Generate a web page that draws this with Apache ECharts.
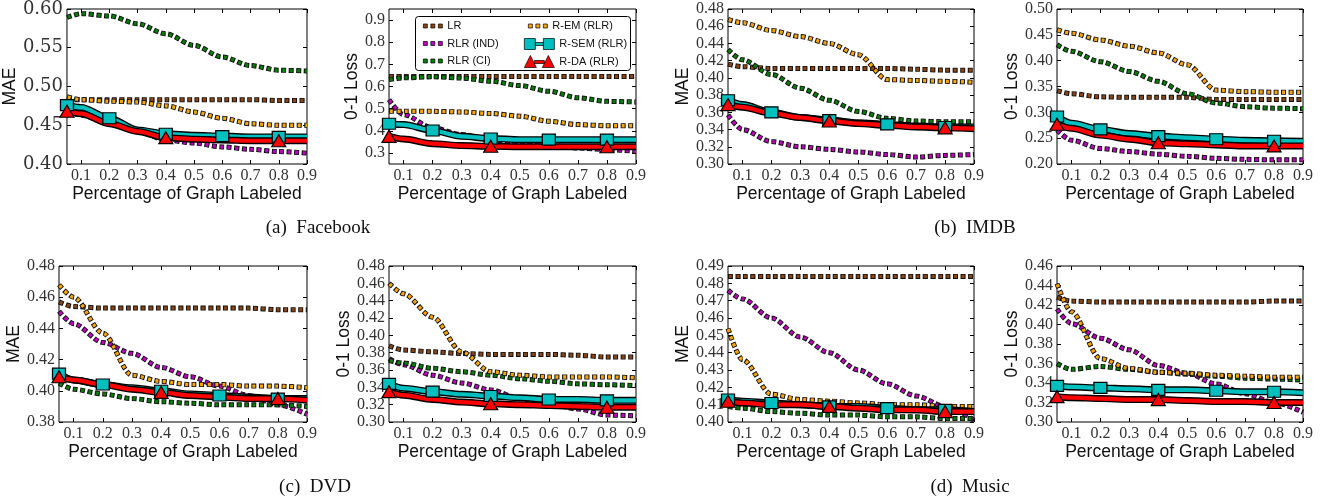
<!DOCTYPE html>
<html>
<head>
<meta charset="utf-8">
<script src="https://cdn.jsdelivr.net/npm/echarts@6/dist/echarts.min.js"></script>
<style>
  html, body { margin: 0; padding: 0; background: #fff; }
  #chart { width: 1330px; height: 500px; }
</style>
</head>
<body>
<div id="chart"></div>
<script>
const xValues = [0.05, 0.1, 0.2, 0.3, 0.4, 0.5, 0.6, 0.7, 0.8, 0.9];
const xTicks = [0.1, 0.2, 0.3, 0.4, 0.5, 0.6, 0.7, 0.8, 0.9];
const methods = ['LR', 'RLR (IND)', 'RLR (CI)', 'R-EM (RLR)', 'R-SEM (RLR)', 'R-DA (RLR)'];
const captions = ['(a)  Facebook', '(b)  IMDB', '(c)  DVD', '(d)  Music'];

// each panel: one row per method, same order as methods
const facebookMae = [
  [0.483, 0.483, 0.483, 0.483, 0.483, 0.483, 0.483, 0.483, 0.482, 0.482],
  [0.469, 0.463, 0.452, 0.442, 0.431, 0.427, 0.422, 0.419, 0.416, 0.414],
  [0.589, 0.594, 0.591, 0.581, 0.568, 0.553, 0.538, 0.527, 0.521, 0.520],
  [0.487, 0.483, 0.481, 0.480, 0.475, 0.467, 0.459, 0.452, 0.450, 0.450],
  [0.476, 0.473, 0.459, 0.444, 0.439, 0.437, 0.436, 0.435, 0.435, 0.435],
  [0.468, 0.465, 0.452, 0.442, 0.434, 0.432, 0.431, 0.430, 0.430, 0.430]
];
const facebookLoss = [
  [0.645, 0.645, 0.645, 0.645, 0.645, 0.645, 0.645, 0.645, 0.645, 0.645],
  [0.541, 0.473, 0.413, 0.383, 0.360, 0.345, 0.334, 0.322, 0.315, 0.307],
  [0.631, 0.639, 0.644, 0.638, 0.624, 0.604, 0.579, 0.549, 0.533, 0.530],
  [0.488, 0.488, 0.488, 0.485, 0.478, 0.466, 0.443, 0.428, 0.423, 0.423],
  [0.432, 0.428, 0.401, 0.375, 0.365, 0.360, 0.360, 0.360, 0.360, 0.360],
  [0.375, 0.363, 0.342, 0.333, 0.330, 0.328, 0.328, 0.328, 0.328, 0.328]
];
const imdbMae = [
  [0.416, 0.413, 0.411, 0.411, 0.411, 0.411, 0.411, 0.410, 0.409, 0.409],
  [0.357, 0.340, 0.326, 0.320, 0.317, 0.314, 0.311, 0.308, 0.310, 0.311],
  [0.433, 0.421, 0.404, 0.388, 0.374, 0.361, 0.353, 0.350, 0.349, 0.349],
  [0.468, 0.464, 0.455, 0.448, 0.440, 0.427, 0.398, 0.397, 0.396, 0.395],
  [0.374, 0.369, 0.360, 0.354, 0.351, 0.348, 0.346, 0.344, 0.343, 0.343],
  [0.369, 0.366, 0.359, 0.354, 0.350, 0.347, 0.345, 0.343, 0.342, 0.341]
];
const imdbLoss = [
  [0.342, 0.336, 0.330, 0.329, 0.329, 0.329, 0.325, 0.325, 0.325, 0.325],
  [0.266, 0.246, 0.230, 0.224, 0.219, 0.215, 0.211, 0.209, 0.208, 0.208],
  [0.431, 0.418, 0.398, 0.379, 0.360, 0.336, 0.318, 0.311, 0.308, 0.307],
  [0.460, 0.453, 0.440, 0.428, 0.415, 0.392, 0.343, 0.340, 0.339, 0.339],
  [0.292, 0.279, 0.267, 0.259, 0.254, 0.251, 0.248, 0.246, 0.245, 0.244],
  [0.277, 0.269, 0.256, 0.248, 0.241, 0.239, 0.237, 0.235, 0.235, 0.235]
];
const dvdMae = [
  [0.457, 0.454, 0.453, 0.453, 0.453, 0.453, 0.453, 0.453, 0.452, 0.452],
  [0.451, 0.443, 0.431, 0.424, 0.415, 0.409, 0.403, 0.397, 0.391, 0.385],
  [0.405, 0.401, 0.398, 0.395, 0.393, 0.392, 0.391, 0.391, 0.391, 0.390],
  [0.468, 0.460, 0.437, 0.410, 0.406, 0.404, 0.404, 0.403, 0.403, 0.402],
  [0.411, 0.407, 0.404, 0.402, 0.400, 0.398, 0.397, 0.396, 0.395, 0.395],
  [0.409, 0.407, 0.404, 0.401, 0.399, 0.397, 0.396, 0.395, 0.395, 0.394]
];
const dvdLoss = [
  [0.388, 0.383, 0.381, 0.379, 0.378, 0.378, 0.378, 0.377, 0.375, 0.375],
  [0.373, 0.366, 0.354, 0.345, 0.337, 0.327, 0.321, 0.315, 0.308, 0.307],
  [0.371, 0.368, 0.362, 0.358, 0.354, 0.350, 0.347, 0.344, 0.343, 0.342],
  [0.460, 0.448, 0.421, 0.381, 0.358, 0.354, 0.352, 0.352, 0.352, 0.351],
  [0.344, 0.339, 0.335, 0.332, 0.330, 0.328, 0.326, 0.326, 0.325, 0.325],
  [0.335, 0.331, 0.326, 0.323, 0.321, 0.320, 0.319, 0.318, 0.317, 0.317]
];
const musicMae = [
  [0.484, 0.484, 0.484, 0.484, 0.484, 0.484, 0.484, 0.484, 0.484, 0.484],
  [0.476, 0.471, 0.460, 0.449, 0.440, 0.430, 0.422, 0.415, 0.409, 0.401],
  [0.409, 0.408, 0.406, 0.405, 0.404, 0.404, 0.403, 0.403, 0.402, 0.402],
  [0.454, 0.436, 0.416, 0.413, 0.412, 0.411, 0.410, 0.410, 0.409, 0.409],
  [0.413, 0.412, 0.411, 0.410, 0.409, 0.409, 0.408, 0.407, 0.407, 0.406],
  [0.412, 0.411, 0.410, 0.410, 0.409, 0.408, 0.407, 0.407, 0.406, 0.406]
];
const musicLoss = [
  [0.428, 0.424, 0.423, 0.423, 0.423, 0.423, 0.423, 0.423, 0.424, 0.424],
  [0.416, 0.401, 0.386, 0.374, 0.358, 0.350, 0.339, 0.329, 0.320, 0.310],
  [0.360, 0.354, 0.357, 0.354, 0.351, 0.349, 0.347, 0.345, 0.344, 0.343],
  [0.442, 0.413, 0.365, 0.355, 0.351, 0.350, 0.348, 0.347, 0.346, 0.346],
  [0.337, 0.336, 0.335, 0.334, 0.333, 0.333, 0.332, 0.331, 0.331, 0.330],
  [0.326, 0.325, 0.324, 0.323, 0.323, 0.322, 0.321, 0.321, 0.320, 0.320]
];

// y tick labels per panel
const facebookMaeTicks = [0.40, 0.45, 0.50, 0.55, 0.60];
const facebookLossTicks = [0.3, 0.4, 0.5, 0.6, 0.7, 0.8, 0.9];
const imdbMaeTicks = [0.30, 0.32, 0.34, 0.36, 0.38, 0.40, 0.42, 0.44, 0.46, 0.48];
const imdbLossTicks = [0.20, 0.25, 0.30, 0.35, 0.40, 0.45, 0.50];
const dvdMaeTicks = [0.38, 0.40, 0.42, 0.44, 0.46, 0.48];
const dvdLossTicks = [0.30, 0.32, 0.34, 0.36, 0.38, 0.40, 0.42, 0.44, 0.46, 0.48];
const musicMaeTicks = [0.40, 0.41, 0.42, 0.43, 0.44, 0.45, 0.46, 0.47, 0.48, 0.49];
const musicLossTicks = [0.30, 0.32, 0.34, 0.36, 0.38, 0.40, 0.42, 0.44, 0.46];

const colors = ['#8b4513', '#bf00bf', '#008000', '#ffa500', '#00bfbf', '#ff0000'];

const panels = [
  { data: facebookMae, ticks: facebookMaeTicks, min: 0.40, max: 0.60, yName: 'MAE', box: [60, 9, 247, 155], nameGap: 36, digits: 2, wideLabels: true },
  { data: facebookLoss, ticks: facebookLossTicks, min: 0.25, max: 0.95, yName: '0-1 Loss', box: [389, 9, 247, 155], nameGap: 25, digits: 1 },
  { data: imdbMae, ticks: imdbMaeTicks, min: 0.30, max: 0.48, yName: 'MAE', box: [728, 9, 246, 155], nameGap: 34, digits: 2 },
  { data: imdbLoss, ticks: imdbLossTicks, min: 0.20, max: 0.50, yName: '0-1 Loss', box: [1057, 9, 246, 155], nameGap: 33, digits: 2 },
  { data: dvdMae, ticks: dvdMaeTicks, min: 0.38, max: 0.48, yName: 'MAE', box: [59, 266, 248, 156], nameGap: 34, digits: 2 },
  { data: dvdLoss, ticks: dvdLossTicks, min: 0.30, max: 0.48, yName: '0-1 Loss', box: [389, 266, 247, 156], nameGap: 34, digits: 2 },
  { data: musicMae, ticks: musicMaeTicks, min: 0.40, max: 0.49, yName: 'MAE', box: [728, 266, 246, 156], nameGap: 36, digits: 2 },
  { data: musicLoss, ticks: musicLossTicks, min: 0.30, max: 0.46, yName: '0-1 Loss', box: [1057, 266, 246, 156], nameGap: 35, digits: 2 }
];

const tickFont = { fontFamily: 'Liberation Serif', fontSize: 16, color: '#333' };
const sansFont = { fontFamily: 'Liberation Sans', fontSize: 17.5, color: '#111' };

const grid = [], xAxis = [], yAxis = [], series = [];

panels.forEach((p, i) => {
  grid.push({
    left: p.box[0], top: p.box[1], width: p.box[2], height: p.box[3],
    show: true, borderColor: '#000', borderWidth: 1, backgroundColor: 'transparent'
  });
  const tick = (values) => ({ show: true, inside: true, length: 4, lineStyle: { color: '#000' }, customValues: values });
  // bottom + top x axes
  xAxis.push({
    type: 'value', gridIndex: i, min: 0.05, max: 0.9,
    axisLine: { show: false }, splitLine: { show: false },
    axisTick: tick(xTicks),
    axisLabel: { ...tickFont, margin: 4, customValues: xTicks, formatter: v => v.toFixed(1) },
    name: 'Percentage of Graph Labeled', nameLocation: 'middle',
    nameGap: i < 4 ? 20 : 18, nameTextStyle: sansFont
  });
  xAxis.push({
    type: 'value', gridIndex: i, position: 'top', min: 0.05, max: 0.9,
    axisLine: { show: false }, splitLine: { show: false },
    axisTick: tick(xTicks), axisLabel: { show: false }
  });
  // left + right y axes
  yAxis.push({
    type: 'value', gridIndex: i, min: p.min, max: p.max,
    axisLine: { show: false }, splitLine: { show: false },
    axisTick: tick(p.ticks),
    axisLabel: {
      ...tickFont,
      ...(p.wideLabels ? { fontFamily: 'DejaVu Serif', fontSize: 18 } : {}),
      margin: 4, customValues: p.ticks, formatter: v => v.toFixed(p.digits)
    },
    name: p.yName, nameLocation: 'middle', nameGap: p.nameGap,
    nameTextStyle: sansFont
  });
  yAxis.push({
    type: 'value', gridIndex: i, position: 'right', min: p.min, max: p.max,
    axisLine: { show: false }, splitLine: { show: false },
    axisTick: tick(p.ticks), axisLabel: { show: false }
  });

  p.data.forEach((vals, m) => {
    const pts = xValues.map((x, k) => [x, vals[k]]);
    const common = {
      type: 'line', xAxisIndex: 2 * i, yAxisIndex: 2 * i, data: pts,
      smooth: 0.3, smoothMonotone: 'x', silent: true, animation: false
    };
    if (m < 4) {
      // dotted line: dark dots underneath, coloured dots on top
      series.push({ ...common, symbol: 'none',
        lineStyle: { color: '#111', width: 5, type: [5, 2.5] } });
      series.push({ ...common, name: methods[m], symbol: 'none', color: colors[m],
        lineStyle: { color: colors[m], width: 3.4, type: [3, 4.5], dashOffset: -1 } });
    } else {
      const step = m === 4 ? 2 : 4;
      series.push({ ...common, symbol: 'none',
        lineStyle: { color: '#000', width: 7 } });
      series.push({ ...common, name: methods[m], color: colors[m],
        showSymbol: true, showAllSymbol: true,
        symbol: (v, params) => params.dataIndex % step === 0 ? (m === 4 ? 'rect' : 'triangle') : 'none',
        symbolSize: m === 4 ? [13, 11] : [14, 12],
        itemStyle: { color: colors[m], borderColor: '#000', borderWidth: 1.2, opacity: 1 },
        lineStyle: { color: colors[m], width: 4.2 } });
    }
  });
});

const dotIcon = 'path://M0,0h4v4h-4zM7.5,0h4v4h-4zM15,0h4v4h-4z';
const semIcon = 'path://M0,0h11v11h-11zM11,4h8v3h-8zM19,0h11v11h-11z';
const daIcon = 'path://M0,12L6,0L12,12ZM10,5h10v3h-10zM18,12L24,0L30,12Z';
const legendText = { fontFamily: 'Liberation Sans', fontSize: 11, color: '#111', lineHeight: 13 };
const legendItem = (m, icon) => ({
  name: methods[m], icon,
  itemStyle: { color: colors[m], borderColor: '#000', borderWidth: 0.7 }
});

const legend = [
  { left: 423, top: 19.5, orient: 'vertical', padding: 0, itemGap: 4.5, itemWidth: 19, itemHeight: 4,
    itemTextGap: 13, textStyle: legendText, selectedMode: false,
    data: [legendItem(0, dotIcon), legendItem(1, dotIcon), legendItem(2, dotIcon)] },
  { left: 528, top: 19.5, orient: 'vertical', padding: 0, itemWidth: 19, itemHeight: 4,
    itemTextGap: 14, textStyle: legendText, selectedMode: false,
    data: [legendItem(3, dotIcon)] },
  { left: 524, top: 37.5, orient: 'vertical', padding: 0, itemGap: 4.5, itemWidth: 30, itemHeight: 12,
    itemTextGap: 8, textStyle: legendText, selectedMode: false,
    data: [legendItem(4, semIcon), legendItem(5, daIcon)] }
];

const captionPos = [[318, 228], [975, 228], [315, 487], [970, 487]];
const graphic = [
  { type: 'rect', left: 415, top: 16, z: 3,
    shape: { width: 215, height: 54, r: 3 },
    style: { fill: '#fff', stroke: '#000', lineWidth: 1 } }
].concat(captions.map((c, k) => ({
  type: 'text', x: captionPos[k][0], y: captionPos[k][1],
  style: { text: c, fontFamily: 'Liberation Serif', fontSize: 19, fill: '#111',
    align: 'center', verticalAlign: 'middle' }
})));

const chart = echarts.init(document.getElementById('chart'));
chart.setOption({
  animation: false,
  backgroundColor: '#fff',
  grid, xAxis, yAxis, series, legend, graphic
});
</script>
</body>
</html>
